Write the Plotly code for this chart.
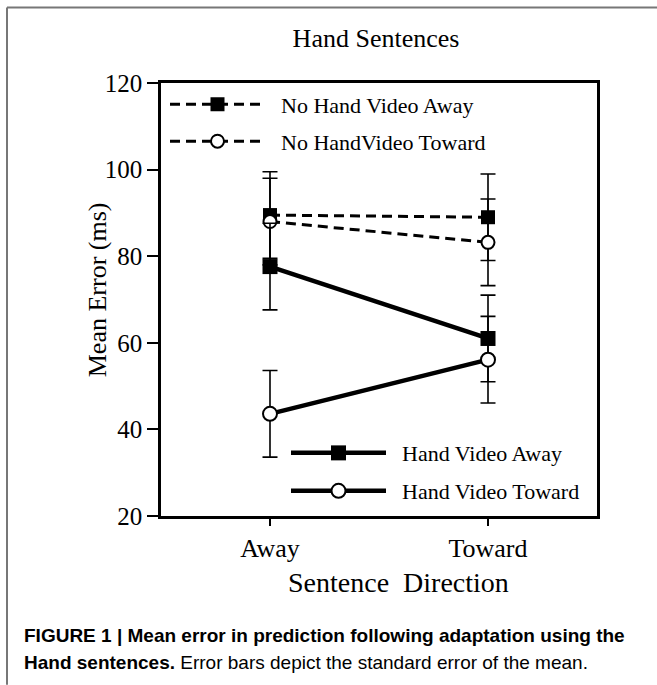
import plotly.graph_objects as go

# ---- data ----
directions = ["Away", "Toward"]
series_names = ["No Hand Video Away", "No HandVideo Toward", "Hand Video Away", "Hand Video Toward"]
no_hand_away = [89.5, 89.0]
no_hand_toward = [88.0, 83.2]
hand_away = [77.6, 61.0]
hand_toward = [43.6, 56.1]
no_hand_away_err = [10.0, 10.0]
no_hand_toward_err = [10.0, 10.0]
hand_away_err = [10.0, 10.0]
hand_toward_err = [10.0, 10.0]
y_ticks = [20, 40, 60, 80, 100, 120]

SERIF = "Liberation Serif, Times New Roman, serif"

# plot area in pixels
W, H = 657, 685
L, R, T, B = 161, 597, 82.5, 516
pw, ph = R - L, B - T


def px2x(px):
    return (px - L) / pw


def px2y(py):
    return (B - py) / ph


fig = go.Figure()

styles = [
    (series_names[0], no_hand_away, no_hand_away_err, "dash", 3, "square", "black", 14, 0, "legend"),
    (series_names[1], no_hand_toward, no_hand_toward_err, "dash", 3, "circle", "white", 13, 2, "legend2"),
    (series_names[2], hand_away, hand_away_err, "solid", 4.5, "square", "black", 15, 0, "legend3"),
    (series_names[3], hand_toward, hand_toward_err, "solid", 4.5, "circle", "white", 14, 2, "legend4"),
]

PAD = "\u00a0\u00a0"
for name, vals, err, dash, lw, sym, fill, msize, mlw, leg in styles:
    fig.add_trace(go.Scatter(
        x=directions, y=vals, name=PAD + name, mode="lines+markers",
        line=dict(color="black", width=lw, dash="10px,6px" if dash == "dash" else "solid"),
        marker=dict(symbol=sym, size=msize, color=fill, line=dict(color="black", width=mlw)),
        error_y=dict(type="data", array=err, visible=True, color="black", thickness=1.6, width=7.5),
        legend=leg,
    ))

legend_common = dict(
    font=dict(family=SERIF, size=22, color="black"),
    bgcolor="rgba(0,0,0,0)", borderwidth=0, itemwidth=95,
    xanchor="left", yanchor="middle",
)

fig.update_layout(
    width=W, height=H,
    margin=dict(l=L, r=W - R, t=T, b=H - B),
    paper_bgcolor="white", plot_bgcolor="white",
    title=dict(text="Hand Sentences", x=px2x(376), xref="paper", y=1 - 38 / H, yanchor="middle",
               xanchor="center", font=dict(family=SERIF, size=26, color="black")),
    legend=dict(x=px2x(165), y=px2y(104), **legend_common),
    legend2=dict(x=px2x(165), y=px2y(141), **legend_common),
    legend3=dict(x=px2x(286), y=px2y(453), **legend_common),
    legend4=dict(x=px2x(286), y=px2y(491), **legend_common),
    xaxis=dict(
        type="category", categoryarray=directions, range=[-0.5, 1.5],
        showline=True, linecolor="black", linewidth=2.5, mirror=True,
        ticks="outside", ticklen=7, tickwidth=2, tickcolor="black",
        showgrid=False, zeroline=False,
        tickfont=dict(family=SERIF, size=26, color="black"),
    ),
    yaxis=dict(
        range=[20, 120], tickvals=y_ticks,
        showline=True, linecolor="black", linewidth=2.5, mirror=True,
        ticks="outside", ticklen=11, tickwidth=2, tickcolor="black",
        showgrid=False, zeroline=False,
        tickfont=dict(family=SERIF, size=25, color="black"),
    ),
    showlegend=True,
)

# axis titles
fig.add_annotation(
    text="Sentence\u00a0 Direction", xref="paper", yref="paper", x=px2x(398), y=px2y(583),
    xanchor="center", yanchor="middle", showarrow=False,
    font=dict(family=SERIF, size=28, color="black"),
)
fig.add_annotation(
    text="Mean Error (ms)", xref="paper", yref="paper", x=px2x(97), y=px2y(290),
    xanchor="center", yanchor="middle", showarrow=False, textangle=-90,
    font=dict(family=SERIF, size=26, color="black"),
)

# outer frame (top and left edges)
fig.add_shape(type="line", xref="paper", yref="paper", x0=px2x(7), x1=px2x(657), y0=px2y(7), y1=px2y(7),
              line=dict(color="#777777", width=2))
fig.add_shape(type="line", xref="paper", yref="paper", x0=px2x(7), x1=px2x(7), y0=px2y(7), y1=px2y(685),
              line=dict(color="#777777", width=2))

CAP = "Liberation Sans, Arial, sans-serif"
fig.add_annotation(
    text="<b>FIGURE 1 | Mean error in prediction following adaptation using the</b>",
    xref="paper", yref="paper", x=px2x(22), y=px2y(636), xanchor="left", yanchor="middle",
    showarrow=False, font=dict(family=CAP, size=19, color="black"), align="left",
)
fig.add_annotation(
    text="<b>Hand sentences.</b> Error bars depict the standard error of the mean.",
    xref="paper", yref="paper", x=px2x(22), y=px2y(663), xanchor="left", yanchor="middle",
    showarrow=False, font=dict(family=CAP, size=19, color="black"), align="left",
)

fig.write_html("out.html", config={"displayModeBar": False},
               post_script="document.body.style.margin='0';document.body.style.overflow='hidden';")
